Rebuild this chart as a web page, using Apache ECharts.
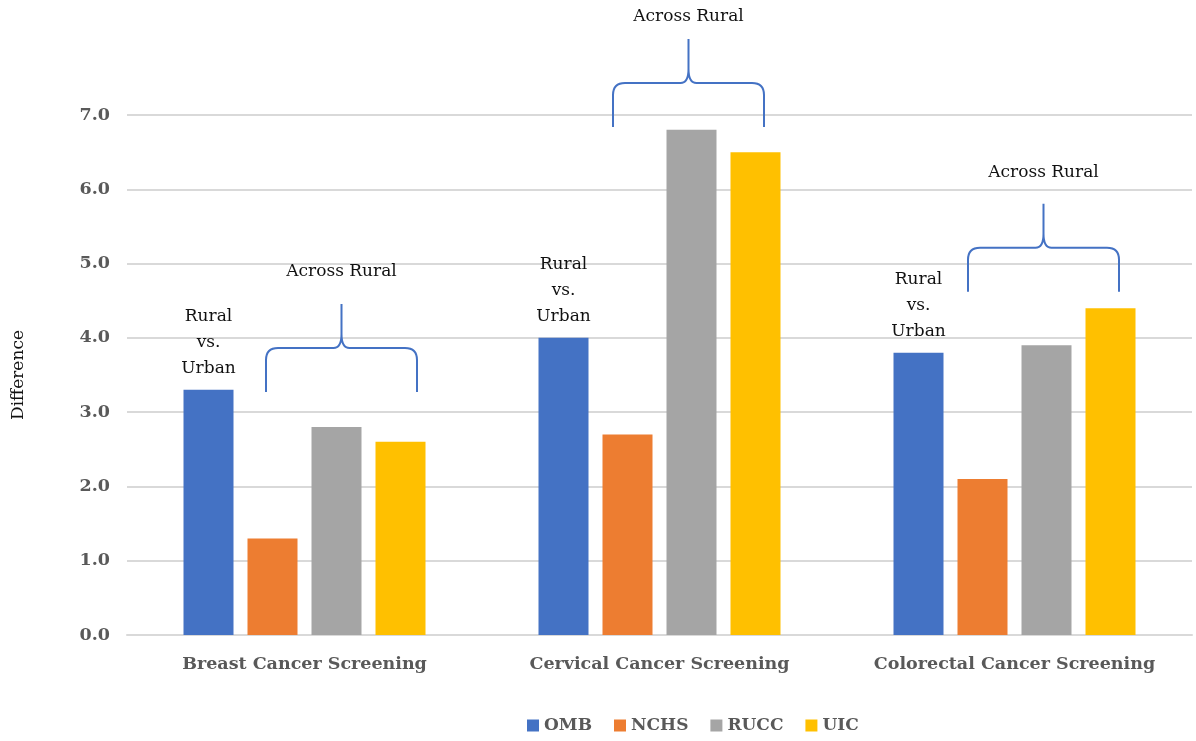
<!DOCTYPE html>
<html>
<head>
<meta charset="utf-8">
<script src="https://cdn.jsdelivr.net/npm/echarts@6/dist/echarts.min.js"></script>
<style>
  html, body { margin: 0; padding: 0; background: #fff; }
  #chart { width: 1196px; height: 741px; }
</style>
</head>
<body>
<div id="chart"></div>
<script>
// Screening categories and the difference reported by each rurality classification
const categories = ['Breast Cancer Screening', 'Cervical Cancer Screening', 'Colorectal Cancer Screening'];
const seriesNames = ['OMB', 'NCHS', 'RUCC', 'UIC'];
const omb  = [3.3, 4.0, 3.8];
const nchs = [1.3, 2.7, 2.1];
const rucc = [2.8, 6.8, 3.9];
const uic  = [2.6, 6.5, 4.4];
const yTicks = [0, 1, 2, 3, 4, 5, 6, 7];

// "Across Rural" braces: value where the brace feet sit, value of the caption
const braceFoot  = [3.27, 6.84, 4.62];
const braceLabel = [4.89, 8.32, 6.23];

const colors = ['#4472C4', '#ED7D31', '#A5A5A5', '#FFC000'];
const FONT = 'DejaVu Serif';
const AXIS_GRAY = '#595959';

const braceShift = [37, 29, 29]; // px offset of each brace from its category centre

const chart = echarts.init(document.getElementById('chart'), null, { renderer: 'canvas' });

const barSeries = [omb, nchs, rucc, uic].map((vals, i) => ({
  name: seriesNames[i],
  type: 'bar',
  data: vals,
  barWidth: 50,
  barGap: '28%',
  itemStyle: { color: colors[i] },
  label: i === 0 ? {
    show: true,
    position: 'top',
    distance: 8,
    formatter: 'Rural\nvs.\nUrban',
    fontFamily: FONT,
    fontSize: 17,
    lineHeight: 26,
    color: '#111'
  } : { show: false },
  emphasis: { disabled: true }
}));

const braceData = categories.map((c, i) => [i, braceFoot[i], braceLabel[i]]);

const braceSeries = {
  type: 'custom',
  name: 'brace',
  data: braceData,
  clip: false,
  silent: true,
  encode: { x: 0, y: 1 },
  renderItem: function (params, api) {
    const idx = api.value(0);
    const foot = api.coord([idx, api.value(1)]);
    const lab = api.coord([idx, api.value(2)]);
    const cx = foot[0] + braceShift[params.dataIndex];
    const by = foot[1];
    const w = 75.5, mid = 44, top = 88, r = 12;
    const d = [
      'M', cx - w, by,
      'L', cx - w, by - mid + r,
      'Q', cx - w, by - mid, cx - w + r, by - mid,
      'L', cx - 8, by - mid,
      'Q', cx, by - mid, cx, by - mid - 14,
      'L', cx, by - top,
      'M', cx, by - mid - 14,
      'Q', cx, by - mid, cx + 8, by - mid,
      'L', cx + w - r, by - mid,
      'Q', cx + w, by - mid, cx + w, by - mid + r,
      'L', cx + w, by
    ].join(' ');
    return {
      type: 'group',
      children: [
        {
          type: 'path',
          shape: { pathData: d },
          style: { fill: null, stroke: '#4472C4', lineWidth: 2 }
        },
        {
          type: 'text',
          style: {
            x: cx, y: lab[1],
            text: 'Across Rural',
            fontFamily: FONT,
            fontSize: 17,
            fill: '#111',
            align: 'center',
            verticalAlign: 'middle'
          }
        }
      ]
    };
  }
};

chart.setOption({
  animation: false,
  backgroundColor: '#fff',
  grid: { left: 127, right: 4, top: 115, bottom: 106 },
  legend: {
    data: seriesNames,
    bottom: 2,
    left: 522,
    icon: 'rect',
    itemWidth: 12,
    itemHeight: 12,
    itemGap: 22,
    textStyle: { fontFamily: FONT, fontWeight: 'bold', fontSize: 17, color: AXIS_GRAY }
  },
  xAxis: {
    type: 'category',
    data: categories,
    axisLine: { lineStyle: { color: '#D9D9D9', width: 2 } },
    axisTick: { show: false },
    axisLabel: { interval: 0, fontFamily: FONT, fontWeight: 'bold', fontSize: 17.5, color: AXIS_GRAY, margin: 20 }
  },
  yAxis: {
    type: 'value',
    min: yTicks[0],
    max: yTicks[yTicks.length - 1],
    interval: 1,
    name: 'Difference',
    nameLocation: 'middle',
    nameGap: 100,
    nameRotate: 90,
    nameTextStyle: { fontFamily: FONT, fontSize: 17, color: '#111' },
    axisLine: { show: false },
    axisTick: { show: false },
    splitLine: { lineStyle: { color: '#D9D9D9', width: 2 } },
    axisLabel: {
      fontFamily: FONT, fontWeight: 'bold', fontSize: 17.5, color: AXIS_GRAY, margin: 17,
      formatter: v => v.toFixed(1)
    }
  },
  series: [...barSeries, braceSeries]
});
</script>
</body>
</html>
